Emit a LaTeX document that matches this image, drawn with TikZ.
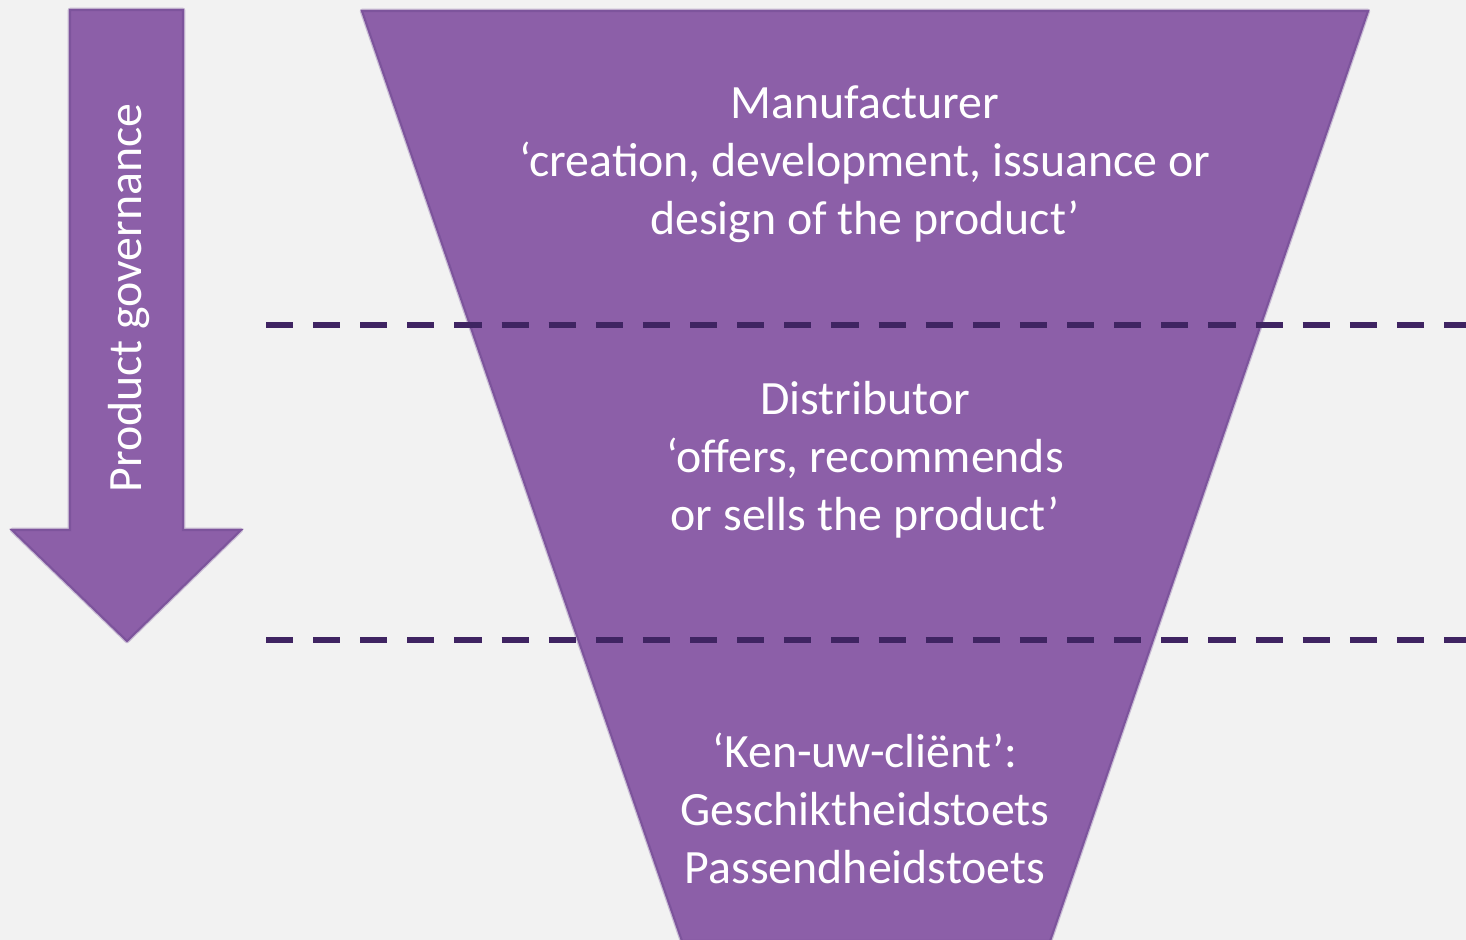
\documentclass[tikz,border=0pt]{standalone}
\usepackage{fontspec}
\setmainfont{Carlito}
\definecolor{bg}{HTML}{F2F2F2}
\definecolor{fillp}{HTML}{8C5FA8}
\definecolor{edgep}{HTML}{7D549C}
\definecolor{haloc}{HTML}{C9BCD4}
\definecolor{dashc}{HTML}{3F2462}
\begin{document}
\begin{tikzpicture}[x=0.01cm,y=-0.01cm,
  shapefill/.style={fill=fillp,draw=edgep,line width=0.6pt,line join=miter},
  halo/.style={draw=haloc,line width=1.3pt,line join=round},
  sep/.style={draw=dashc,line width=1.9pt,dash pattern=on 7.7pt off 5.7pt},
  lbl/.style={text=white,align=center,font=\fontsize{13.6}{16.5}\selectfont,inner sep=0pt}]
\fill[bg] (0,0) rectangle (1466,940);
\useasboundingbox (0,0) rectangle (1466,940);
% funnel
\path[halo] (362,11) -- (1368,11) -- (1050,941) -- (682,941) -- cycle;
\path[shapefill] (362,11) -- (1368,11) -- (1050,941) -- (682,941) -- cycle;
% arrow
\path[halo] (70,10) -- (183,10) -- (183,530) -- (241,530) -- (127,641) -- (12,530) -- (70,530) -- cycle;
\path[shapefill] (70,10) -- (183,10) -- (183,530) -- (241,530) -- (127,641) -- (12,530) -- (70,530) -- cycle;
\node[lbl,rotate=90] (pg) at (129,298) {Product governance};
% separators
\coordinate (s1a) at (266,325); \coordinate (s1b) at (1466,325);
\coordinate (s2a) at (266,640); \coordinate (s2b) at (1466,640);
\draw[sep] (s1a) -- (s1b);
\draw[sep] (s2a) -- (s2b);
% labels
\node[lbl] (man) at (865,164) {Manufacturer\\‘creation, development, issuance or\\design of the product’};
\node[lbl] (dis) at (865,460) {Distributor\\‘offers, recommends\\or sells the product’};
\node[lbl] (kyc) at (865,808) {‘Ken-uw-cliënt’:\\Geschiktheidstoets\\Passendheidstoets};
\end{tikzpicture}
\end{document}
